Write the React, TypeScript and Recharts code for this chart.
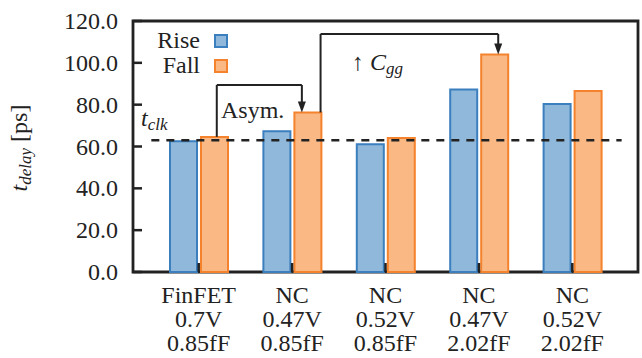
import React from 'react';
import {
  BarChart,
  Bar,
  XAxis,
  YAxis,
  ReferenceLine,
  ReferenceArea,
} from 'recharts';

// configurations (3 label lines each)
const catLines = [
  ['FinFET', '0.7V', '0.85fF'],
  ['NC', '0.47V', '0.85fF'],
  ['NC', '0.52V', '0.85fF'],
  ['NC', '0.47V', '2.02fF'],
  ['NC', '0.52V', '2.02fF'],
];
const riseDelay = [62.5, 67.3, 61.1, 87.2, 80.3];
const fallDelay = [64.6, 76.3, 64.1, 104.0, 86.5];
const yTicks = [0, 20, 40, 60, 80, 100, 120];
const tClk = 63.0;

const data = catLines.map((l, i) => ({
  name: l.join(' '),
  idx: i,
  Rise: riseDelay[i],
  Fall: fallDelay[i],
}));

const W = 642;
const H = 358;
const LEFT = 133;
const RIGHT = 638;
const TOP = 21;
const BOTTOM = 272;
const INK = '#222';
const FONT = "'Liberation Serif', 'DejaVu Serif', 'Noto Serif', serif";

const RISE_FILL = '#8fb8da';
const RISE_STROKE = '#3b7fbf';
const FALL_FILL = '#f9b884';
const FALL_STROKE = '#f5822c';

const LeftTick = (props: any) => {
  const { y, payload } = props;
  return (
    <g>
      <line x1={LEFT} x2={LEFT + 9} y1={y} y2={y} stroke={INK} strokeWidth={2.5} />
      <text x={LEFT - 15} y={y} dy={8} textAnchor="end" fill={INK} fontSize={24} style={{ fontFamily: FONT }}>
        {Number(payload.value).toFixed(1)}
      </text>
    </g>
  );
};

const RightTick = (props: any) => {
  const { y } = props;
  return <line x1={RIGHT} x2={RIGHT - 9} y1={y} y2={y} stroke={INK} strokeWidth={2.5} />;
};

const TopTick = (props: any) => {
  const { x } = props;
  return <line x1={x} x2={x} y1={TOP} y2={TOP + 9} stroke={INK} strokeWidth={2.5} />;
};

const BottomTick = (props: any) => {
  const { x, index } = props;
  const lines = catLines[index] || [];
  return (
    <g>
      <line x1={x} x2={x} y1={BOTTOM} y2={BOTTOM - 9} stroke={INK} strokeWidth={2.5} />
      <text textAnchor="middle" fill={INK} fontSize={24} style={{ fontFamily: FONT }}>
        {lines.map((t, i) => (
          <tspan key={i} x={x} y={BOTTOM + 31 + i * 24}>{t}</tspan>
        ))}
      </text>
    </g>
  );
};

// down-pointing final segment of an annotation arrow
const ArrowDown = (props: any) => {
  const { x1, y1, x2, y2 } = props;
  const top = Math.min(y1, y2);
  const tip = Math.max(y1, y2);
  return (
    <g>
      <line x1={x1} x2={x2} y1={top} y2={tip - 6} stroke={INK} strokeWidth={2} />
      <polygon points={`${x1 - 4},${tip - 11} ${x1 + 4},${tip - 11} ${x1},${tip}`} fill={INK} />
    </g>
  );
};

const legendItems = [
  { label: 'Rise', fill: RISE_FILL, stroke: RISE_STROKE },
  { label: 'Fall', fill: FALL_FILL, stroke: FALL_STROKE },
];

const sub = { fontSize: 17, fontStyle: 'italic' as const, verticalAlign: '-4px' };

const seg = { stroke: INK, strokeWidth: 2, xAxisId: 'num', ifOverflow: 'visible' as const };

export default function App() {
  return (
    <div style={{ position: 'relative', width: W, height: H, fontFamily: FONT, color: INK }}>
      <style>{'body{margin:0}'}</style>
      <BarChart
        width={W}
        height={H}
        data={data}
        margin={{ top: TOP, right: W - RIGHT, bottom: 0, left: 0 }}
        barSize={27}
        barGap={4}
      >
        <XAxis
          dataKey="name"
          height={H - BOTTOM}
          padding={{ left: 19, right: 19 }}
          axisLine={false}
          tickLine={false}
          tick={<BottomTick />}
          interval={0}
        />
        <XAxis
          xAxisId="top"
          orientation="top"
          dataKey="name"
          height={0}
          padding={{ left: 19, right: 19 }}
          axisLine={false}
          tickLine={false}
          tick={<TopTick />}
          interval={0}
        />
        <XAxis xAxisId="num" type="number" dataKey="idx" domain={[-0.706, 4.695]} allowDataOverflow hide />
        <YAxis
          width={LEFT}
          domain={[0, 120]}
          ticks={yTicks}
          interval={0}
          axisLine={false}
          tickLine={false}
          tick={<LeftTick />}
        />
        <YAxis
          yAxisId="right"
          orientation="right"
          width={0}
          domain={[0, 120]}
          ticks={yTicks}
          interval={0}
          axisLine={false}
          tickLine={false}
          tick={<RightTick />}
        />
        <Bar dataKey="Rise" fill={RISE_FILL} stroke={RISE_STROKE} strokeWidth={2} isAnimationActive={false} />
        <Bar dataKey="Fall" fill={FALL_FILL} stroke={FALL_STROKE} strokeWidth={2} isAnimationActive={false} />

        {/* plot frame */}
        <ReferenceArea
          xAxisId="num"
          x1={-0.706}
          x2={4.695}
          y1={0}
          y2={120}
          fill="none"
          fillOpacity={0}
          stroke={INK}
          strokeWidth={2.8}
          strokeOpacity={1}
          ifOverflow="visible"
        />

        {/* clock period */}
        <ReferenceLine
          xAxisId="num"
          segment={[{ x: -0.51, y: tClk }, { x: 4.52, y: tClk }]}
          stroke={INK}
          strokeWidth={2.5}
          strokeDasharray="8 7"
          ifOverflow="visible"
        />

        {/* Asym. arrow */}
        <ReferenceLine {...seg} segment={[{ x: 0.19, y: fallDelay[0] }, { x: 0.19, y: 89.4 }]} />
        <ReferenceLine {...seg} segment={[{ x: 0.19, y: 89.4 }, { x: 1.1, y: 89.4 }]} />
        <ReferenceLine {...seg} segment={[{ x: 1.1, y: 89.4 }, { x: 1.1, y: fallDelay[1] }]} shape={<ArrowDown />} />

        {/* C_gg arrow */}
        <ReferenceLine {...seg} segment={[{ x: 1.3, y: fallDelay[1] }, { x: 1.3, y: 113.8 }]} />
        <ReferenceLine {...seg} segment={[{ x: 1.3, y: 113.8 }, { x: 3.2, y: 113.8 }]} />
        <ReferenceLine {...seg} segment={[{ x: 3.2, y: 113.8 }, { x: 3.2, y: fallDelay[3] }]} shape={<ArrowDown />} />
      </BarChart>

      {/* legend */}
      <div style={{ position: 'absolute', left: 120, top: 28, width: 108, fontSize: 24, lineHeight: '25px' }}>
        {legendItems.map((it) => (
          <div key={it.label} style={{ display: 'flex', alignItems: 'center', justifyContent: 'flex-end', height: 25 }}>
            <span>{it.label}</span>
            <span
              style={{
                display: 'inline-block',
                width: 10,
                height: 10,
                marginLeft: 14,
                background: it.fill,
                border: `2px solid ${it.stroke}`,
              }}
            />
          </div>
        ))}
      </div>

      <div style={{ position: 'absolute', left: 221, top: 96, fontSize: 24, lineHeight: '28px' }}>Asym.</div>
      <div style={{ position: 'absolute', left: 352, top: 48, fontSize: 24, lineHeight: '28px', whiteSpace: 'nowrap' }}>
        ↑ <i>C</i>
        <sub style={sub}>gg</sub>
      </div>
      <div style={{ position: 'absolute', left: 141, top: 104, fontSize: 24, lineHeight: '28px', whiteSpace: 'nowrap' }}>
        <i>t</i>
        <sub style={sub}>clk</sub>
      </div>
      <div
        style={{
          position: 'absolute',
          left: 22,
          top: 148,
          fontSize: 24,
          lineHeight: '28px',
          whiteSpace: 'nowrap',
          transform: 'translate(-50%, -50%) rotate(-90deg)',
        }}
      >
        <i>t</i>
        <sub style={sub}>delay</sub> [ps]
      </div>
    </div>
  );
}
